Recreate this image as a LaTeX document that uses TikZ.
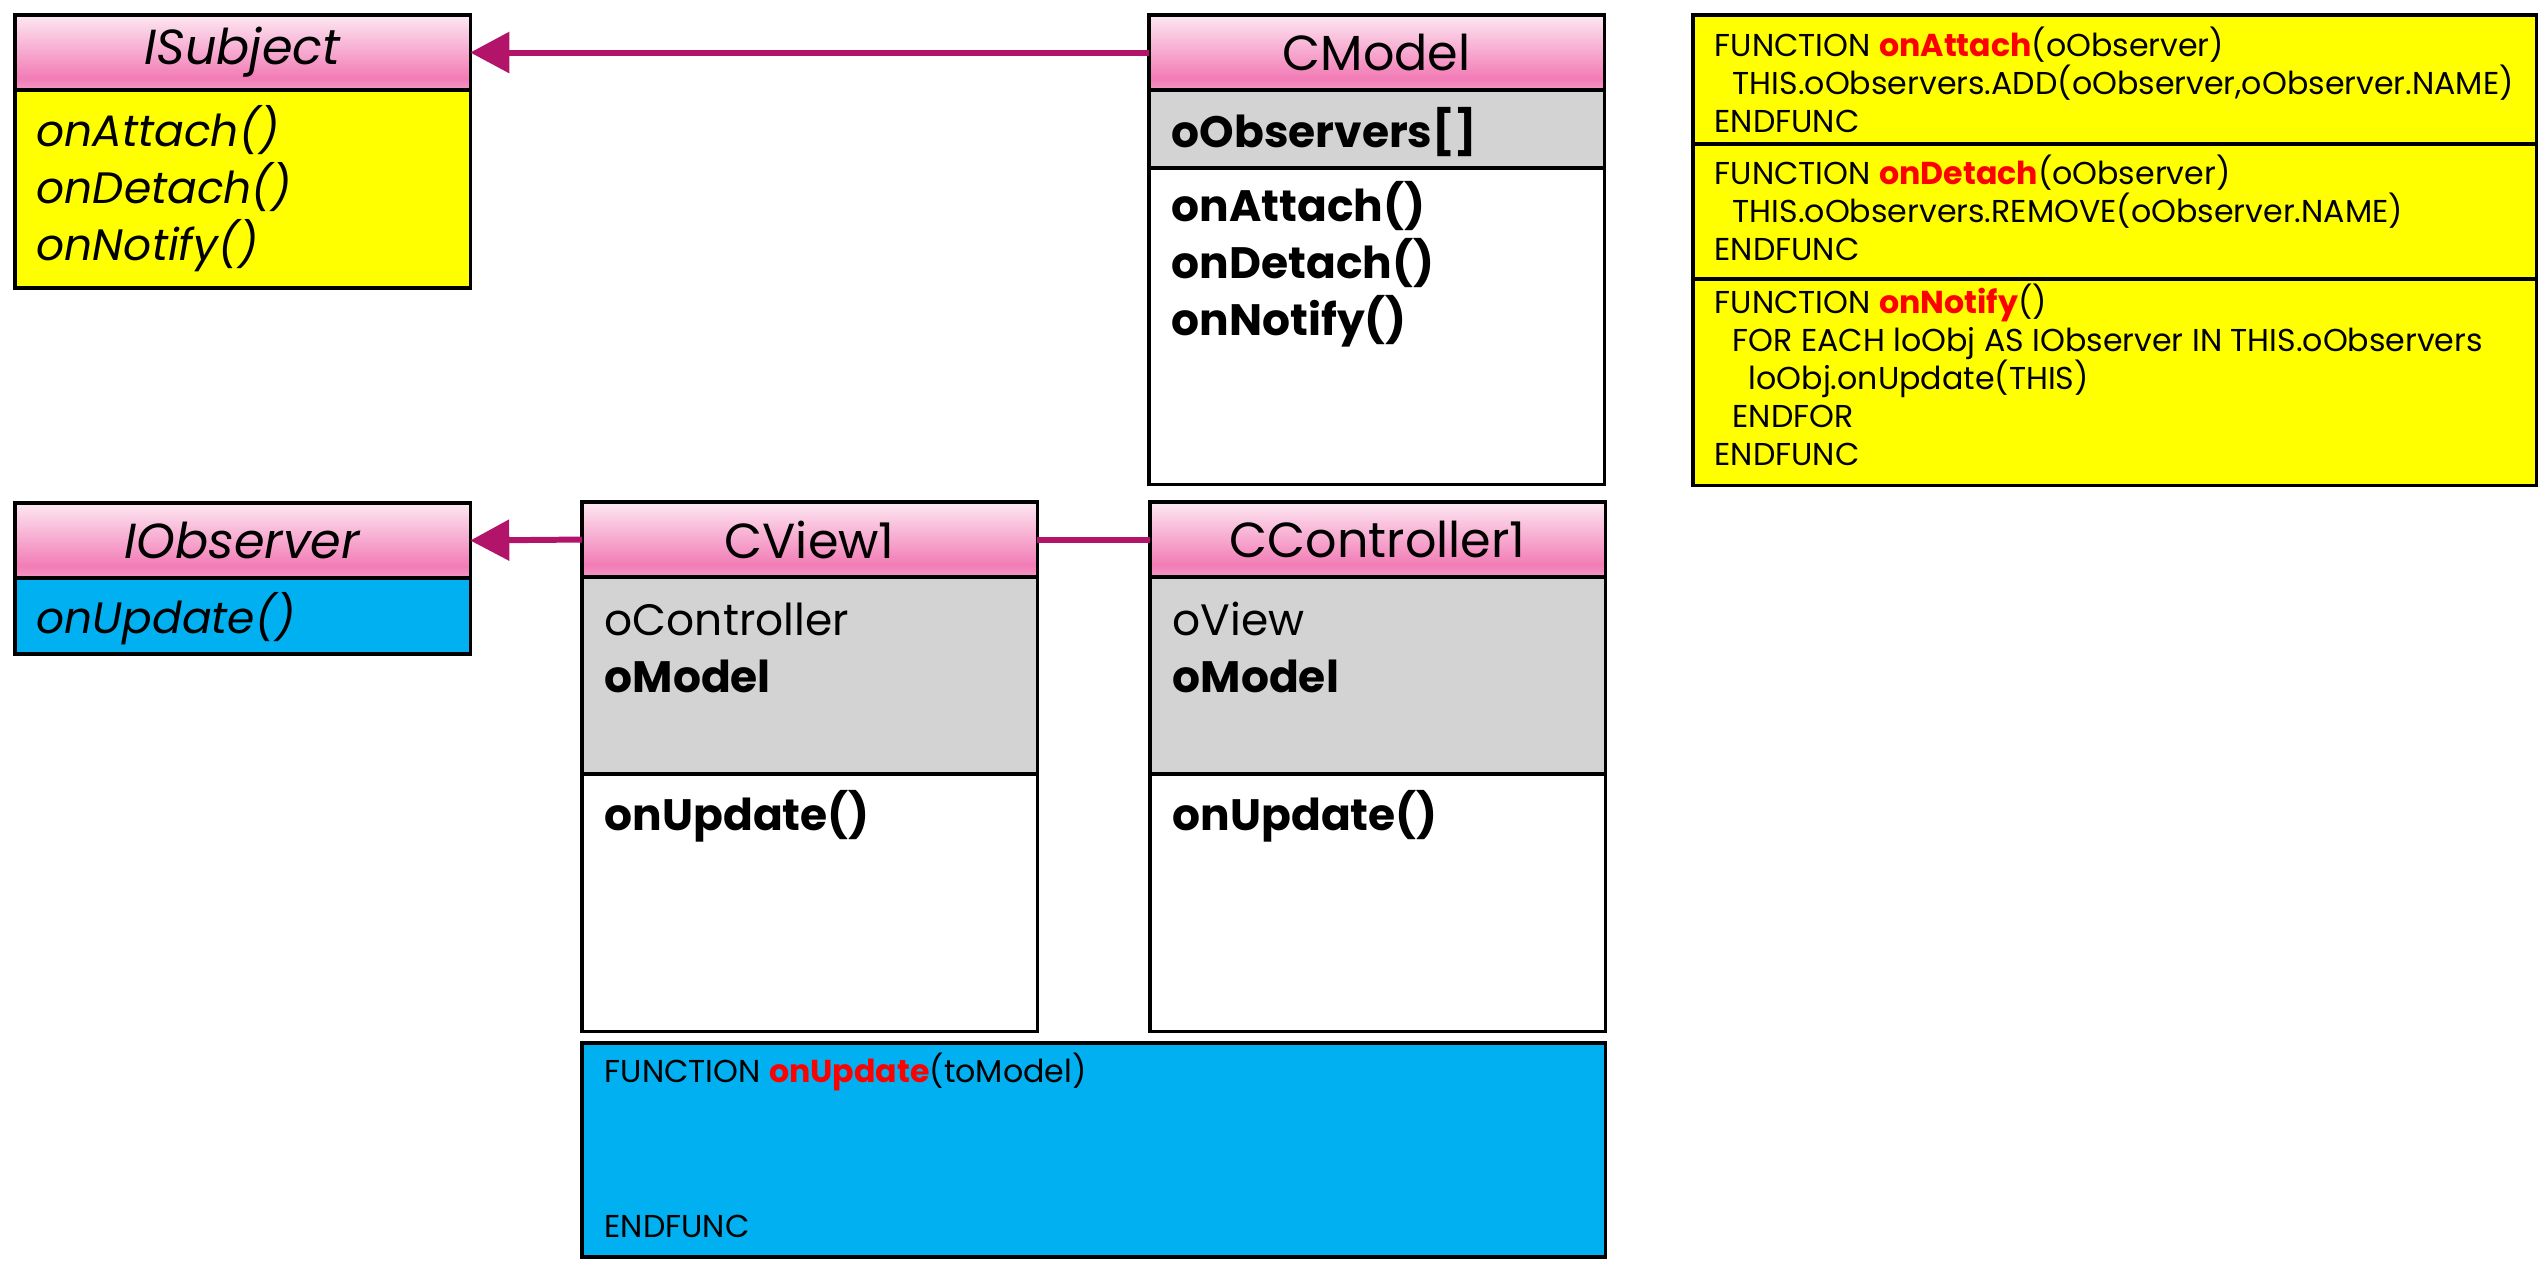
\documentclass[tikz,border=0pt]{standalone}
\usepackage{fontspec}
\setmainfont{Poppins}
\usetikzlibrary{positioning}
\usetikzlibrary{arrows.meta}

\definecolor{headlight}{HTML}{FDE8F2}
\definecolor{headdark}{HTML}{F27CB6}
\definecolor{headbottom}{HTML}{F598C6}
\definecolor{linkpurple}{HTML}{B2146A}
\definecolor{notered}{HTML}{FF0000}
\definecolor{noteyellow}{HTML}{FFFF00}
\definecolor{noteblue}{HTML}{00B0F0}
\definecolor{fieldgray}{HTML}{D3D3D3}

\pgfdeclareverticalshading{classhead}{100bp}{color(0bp)=(headbottom); color(25bp)=(headbottom); color(33bp)=(headdark); color(75bp)=(headlight); color(100bp)=(headlight)}

\tikzset{
  head/.style={draw, line width=1pt, outer sep=0pt, minimum width=4.55cm, minimum height=0.75cm, shading=classhead, font=\fontsize{14}{16}\selectfont},
  part/.style={draw, line width=1pt, outer sep=0pt, minimum width=4.55cm},
  members/.style={anchor=base west, align=left, inner sep=0pt, font=\fontsize{12.5}{16.2}\selectfont},
  notebox/.style={draw, line width=1pt, outer sep=0pt, minimum width=8.43cm},
  code/.style={anchor=base west, align=left, inner sep=0pt, font=\fontsize{9}{10.8}\selectfont},
  link/.style={draw=linkpurple, line width=1.7pt},
}
\newcommand{\redname}[1]{\textcolor{notered}{\textbf{#1}}}

\begin{document}
\begin{tikzpicture}[x=0.01cm,y=-0.01cm,>={Triangle[length=0.39cm,width=0.40cm]}]
  \useasboundingbox (0,0) rectangle (2539,1260);

  % interfaces (text nodes sit on the baseline of their last line)
  \node [head, anchor=north west] (isubj) at (15,15) {\textit{ISubject}};
  \node [part, fill=noteyellow, minimum height=1.98cm, below=0pt of isubj] (isubj-ops) {};
  \node [members] (isubj-txt) at (36,260) {\textit{onAttach()}\\\textit{onDetach()}\\\textit{onNotify()}};

  \node [head, anchor=north west] (iobs) at (15,503) {\textit{IObserver}};
  \node [part, fill=noteblue, minimum height=0.76cm, below=0pt of iobs] (iobs-ops) {};
  \node [members] (iobs-txt) at (36,633) {\textit{onUpdate()}};

  % model
  \node [head, anchor=north west] (cmodel) at (1149,15) {CModel};
  \node [part, fill=fieldgray, minimum height=0.78cm, below=0pt of cmodel] (cmodel-attr) {};
  \node [part, fill=white, minimum height=3.16cm, below=0pt of cmodel-attr] (cmodel-ops) {};
  \node [members] (cmodel-atxt) at (1171,147) {\textbf{oObservers[]}};
  \node [members] (cmodel-otxt) at (1171,335) {\textbf{onAttach()}\\\textbf{onDetach()}\\\textbf{onNotify()}};

  % view and controller
  \node [head, anchor=north west] (cview) at (582,502) {CView1};
  \node [part, fill=fieldgray, minimum height=1.97cm, below=0pt of cview] (cview-attr) {};
  \node [part, fill=white, minimum height=2.57cm, below=0pt of cview-attr] (cview-ops) {};
  \node [members] (cview-atxt) at (604,692) {oController\\\textbf{oModel}};
  \node [members] (cview-otxt) at (604,830) {\textbf{onUpdate()}};

  \node [head, anchor=north west] (cctrl) at (1150,502) {CController1};
  \node [part, fill=fieldgray, minimum height=1.97cm, below=0pt of cctrl] (cctrl-attr) {};
  \node [part, fill=white, minimum height=2.57cm, below=0pt of cctrl-attr] (cctrl-ops) {};
  \node [members] (cctrl-atxt) at (1172,692) {oView\\\textbf{oModel}};
  \node [members] (cctrl-otxt) at (1172,830) {\textbf{onUpdate()}};

  % pseudo code notes
  \node [notebox, fill=noteyellow, minimum height=1.29cm, anchor=north west] (attach) at (1693,15) {};
  \node [notebox, fill=noteyellow, minimum height=1.35cm, below=0pt of attach] (detach) {};
  \node [notebox, fill=noteyellow, minimum height=2.06cm, below=0pt of detach] (notify) {};
  \node [code] (attach-txt) at (1714,132) {FUNCTION \redname{onAttach}(oObserver)\\
    \hspace*{0.18cm}THIS.oObservers.ADD(oObserver,oObserver.NAME)\\
    ENDFUNC};
  \node [code] (detach-txt) at (1714,260) {FUNCTION \redname{onDetach}(oObserver)\\
    \hspace*{0.18cm}THIS.oObservers.REMOVE(oObserver.NAME)\\
    ENDFUNC};
  \node [code] (notify-txt) at (1714,465) {FUNCTION \redname{onNotify}()\\
    \hspace*{0.18cm}FOR EACH loObj AS IObserver IN THIS.oObservers\\
    \hspace*{0.34cm}loObj.onUpdate(THIS)\\
    \hspace*{0.18cm}ENDFOR\\
    ENDFUNC};

  \node [notebox, fill=noteblue, minimum width=10.23cm, minimum height=2.14cm, anchor=north west] (update) at (582,1043) {};
  \node [code] (update-txt) at (604,1237) {FUNCTION \redname{onUpdate}(toModel)\\[1.16cm]
    ENDFUNC};

  % links
  \draw [link,->] (cmodel.west) -- (isubj.east);
  \draw [link,->] (cview.west) -- (iobs.east);
  \draw [link] (cview.east) -- (cctrl.west);
\end{tikzpicture}
\end{document}
